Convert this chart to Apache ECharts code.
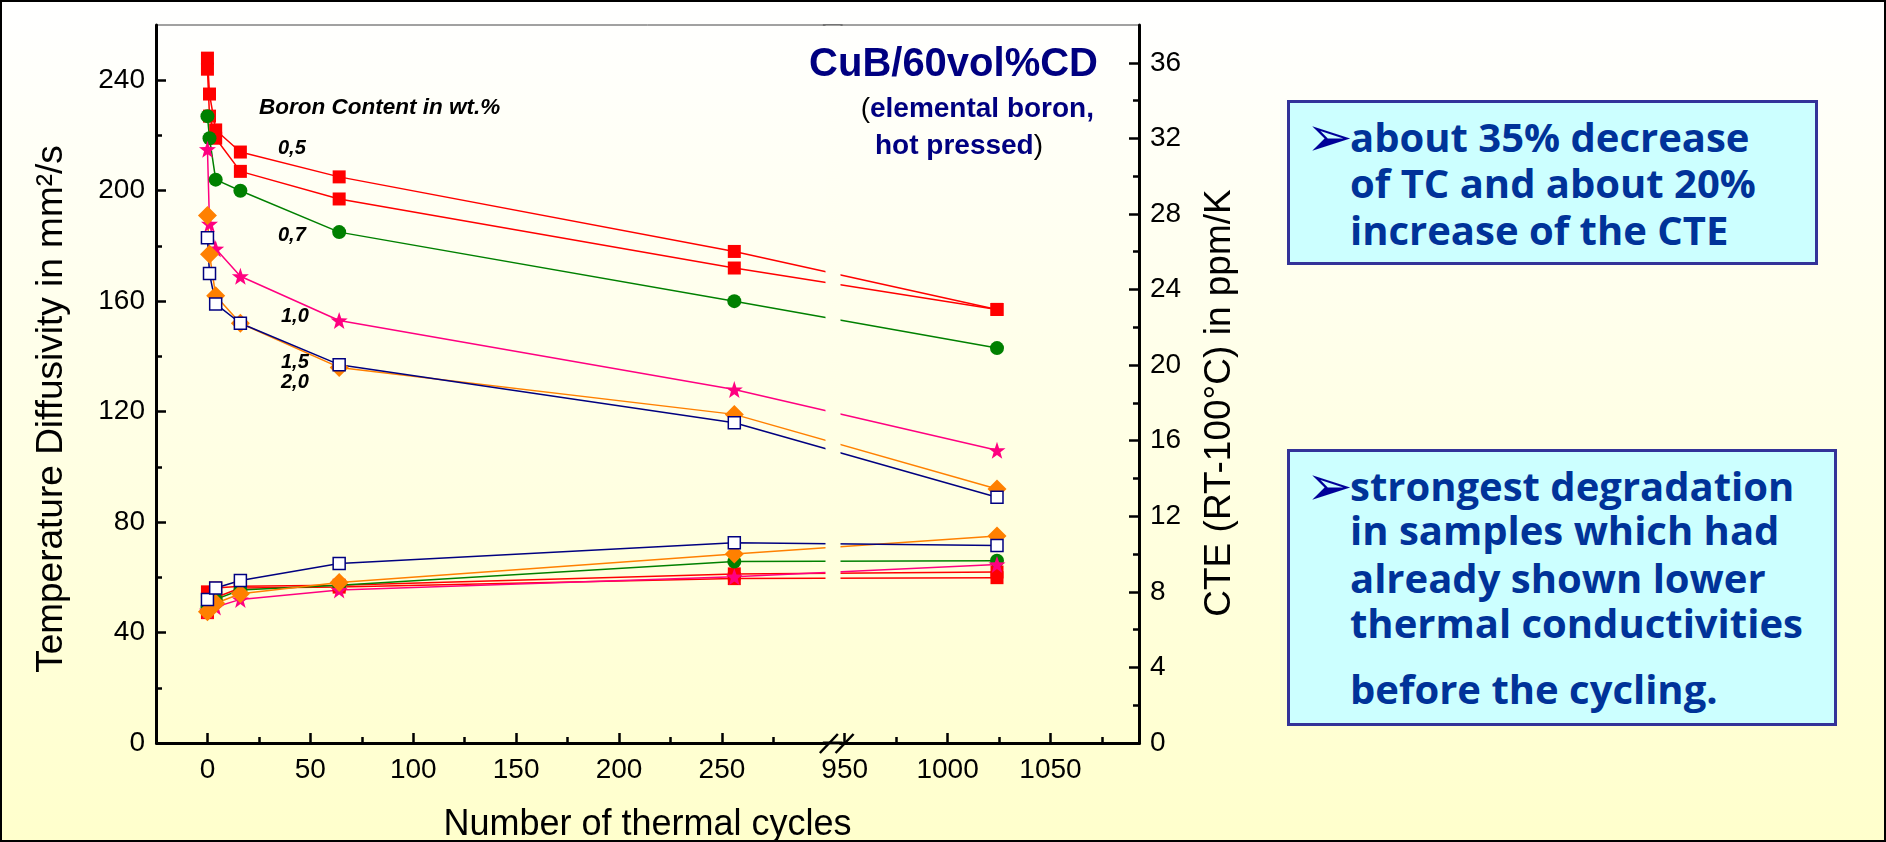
<!DOCTYPE html>
<html>
<head>
<meta charset="utf-8">
<script src="https://cdn.jsdelivr.net/npm/echarts@6/dist/echarts.min.js"></script>
<style>
html, body { margin: 0; padding: 0; }
body { width: 1886px; height: 842px; position: relative; overflow: hidden;
  background: linear-gradient(to bottom, #ffffff 0%, #ffffcc 100%); }
#chart { position: absolute; left: 0; top: 0; width: 1886px; height: 842px; }
#frame { position: absolute; left: 0; top: 0; width: 1886px; height: 842px; box-sizing: border-box;
  border: 2px solid #000; pointer-events: none; }
.box { position: absolute; box-sizing: border-box; border: 3px solid #333399; background: #ccffff;
  font-family: 'Open Sans', sans-serif; font-weight: 700; color: #003399; font-size: 40px; }
.box .ln { position: absolute; left: 60px; white-space: nowrap; line-height: 1; transform: translateY(-50%); }
.box .arrow { position: absolute; left: 16px; line-height: 1; transform: translateY(-50%);
  font-family: 'DejaVu Sans', sans-serif; color: #000099; font-size: 56px; font-weight: 400; }
</style>
</head>
<body>
<div id="chart"></div>
<div class="box" style="left:1287px;top:100px;width:531px;height:165px;">
  <span class="arrow" style="top:34px;">&#10146;</span>
  <span class="ln" style="top:34px;">about 35% decrease</span>
  <span class="ln" style="top:80px;">of TC and about 20%</span>
  <span class="ln" style="top:127px;">increase of the CTE</span>
</div>
<div class="box" style="left:1287px;top:449px;width:550px;height:277px;">
  <span class="arrow" style="top:34px;">&#10146;</span>
  <span class="ln" style="top:34px;">strongest degradation</span>
  <span class="ln" style="top:78px;">in samples which had</span>
  <span class="ln" style="top:126px;">already shown lower</span>
  <span class="ln" style="top:171px;">thermal conductivities</span>
  <span class="ln" style="top:237px;">before the cycling.</span>
</div>
<div id="frame"></div>
<script>
// thermal cycles
const cyclesTD = [0, 1, 4, 16, 64, 256, 1024]
const cyclesCTE = [0, 4, 16, 64, 256, 1024]

// temperature diffusivity, mm2/s
const td05a = [248, 235, 222, 214, 205, 178, 157]
const td05b = [244, 227, 219, 207, 197, 172, 157]
const td07 = [227, 219, 204, 200, 185, 160, 143]
const td10 = [215, 188, 179, 169, 153, 128, 106]
const td15 = [191, 177, 162, 152, 136, 119, 92]
const td20 = [183, 170, 159, 152, 137, 116, 89]

// CTE (RT-100°C), ppm/K
const cte05a = [8.0, 8.2, 8.3, 8.35, 8.95, 9.05]
const cte05b = [6.9, 7.7, 8.2, 8.25, 8.7, 8.75]
const cte07 = [7.2, 7.6, 8.1, 8.35, 9.6, 9.65]
const cte10 = [7.0, 7.2, 7.6, 8.1, 8.8, 9.45]
const cte15 = [6.95, 7.4, 7.9, 8.5, 10.0, 10.95]
const cte20 = [7.6, 8.2, 8.6, 9.5, 10.6, 10.45]

// ticks
const xTicks = [0, 50, 100, 150, 200, 250, 950, 1000, 1050]
const xMinor = [25, 75, 125, 175, 225, 275, 975, 1025, 1075]
const tdTicks = [0, 40, 80, 120, 160, 200, 240]
const tdMinor = [20, 60, 100, 140, 180, 220]
const cteTicks = [0, 4, 8, 12, 16, 20, 24, 28, 32, 36]
const cteMinor = [2, 6, 10, 14, 18, 22, 26, 30, 34]

const FONT = 'Liberation Sans'
const STAR = 'path://M0,-10L2.35,-3.24L9.51,-3.09L3.8,1.24L5.88,8.09L0,4L-5.88,8.09L-3.8,1.24L-9.51,-3.09L-2.35,-3.24Z'

const styles = [
  { name: '0,5 a', color: '#ff0000', symbol: 'rect', size: 13 },
  { name: '0,5 b', color: '#ff0000', symbol: 'rect', size: 13 },
  { name: '0,7', color: '#008000', symbol: 'circle', size: 14 },
  { name: '1,0', color: '#ff0080', symbol: STAR, size: 17 },
  { name: '1,5', color: '#ff8000', symbol: 'diamond', size: 19 },
  { name: '2,0', color: '#000080', symbol: 'rect', size: 12, open: true },
]
const tdData = [td05a, td05b, td07, td10, td15, td20]
const cteData = [cte05a, cte05b, cte07, cte10, cte15, cte20]

const mkSeries = (st, xs, ys, yIdx) => ({
  type: 'line', name: st.name, xAxisIndex: 0, yAxisIndex: yIdx,
  data: xs.map((x, i) => [x, ys[i]]),
  symbol: st.symbol, symbolSize: st.size, showAllSymbol: true,
  lineStyle: { color: st.color, width: 1.5 },
  itemStyle: st.open ? { color: '#ffffff', borderColor: st.color, borderWidth: 1.5 } : { color: st.color, borderWidth: 0 },
  clip: false,
})

const series = []
styles.forEach((st, i) => series.push(mkSeries(st, cyclesTD, tdData[i], 0)))
styles.forEach((st, i) => series.push(mkSeries(st, cyclesCTE, cteData[i], 1)))

const axisLine = () => ({ show: true, onZero: false, lineStyle: { color: '#000', width: 3 } })
const noLine = () => ({ show: false, onZero: false })
const tick = (vals, len) => ({ show: true, inside: true, length: len, customValues: vals, lineStyle: { color: '#000', width: 2.5 } })
const xBreaks = () => [{ start: 300, end: 948, gap: '1.6%' }]

const chart = echarts.init(document.getElementById('chart'), null, { renderer: 'canvas' })
chart.setOption({
  animation: false,
  backgroundColor: 'transparent',
  grid: { left: 156, right: 747, top: 25, bottom: 99, outerBoundsMode: 'none', containLabel: false,
    show: true, borderColor: '#444', borderWidth: 1, backgroundColor: 'transparent' },
  xAxis: [{
    type: 'value', position: 'bottom', min: -25, max: 1093,
    breaks: xBreaks(),
    breakArea: {
      show: true, expandOnClick: false, zigzagAmplitude: 0, zigzagZ: 100,
      itemStyle: {
        color: new echarts.graphic.LinearGradient(0, 0, 0, 1, [{ offset: 0, color: '#fffffd' }, { offset: 1, color: '#ffffd2' }]),
        borderWidth: 0, borderColor: 'rgba(0,0,0,0)', opacity: 1,
      },
    },
    axisLine: axisLine(),
    axisTick: tick(xTicks, 10),
    axisLabel: { customValues: xTicks, formatter: v => String(v), color: '#000', fontSize: 28, fontFamily: FONT, margin: 13 },
    splitLine: { show: false },
    name: 'Number of thermal cycles', nameLocation: 'middle', nameGap: 64,
    nameTextStyle: { fontSize: 36, fontFamily: FONT, color: '#000' },
  }, {
    type: 'value', position: 'bottom', min: -25, max: 1093,
    breaks: xBreaks(), breakArea: { show: false },
    axisLine: noLine(),
    axisTick: tick(xMinor, 6),
    axisLabel: { show: false }, splitLine: { show: false },
  }],
  yAxis: [{
    type: 'value', position: 'left', min: 0, max: 260,
    axisLine: axisLine(),
    axisTick: tick(tdTicks, 10),
    axisLabel: { customValues: tdTicks, color: '#000', fontSize: 28, fontFamily: FONT, margin: 11 },
    splitLine: { show: false },
    name: 'Temperature Diffusivity in mm²/s', nameLocation: 'middle', nameGap: 86, nameRotate: 90,
    nameTextStyle: { fontSize: 37, fontFamily: FONT, color: '#000', padding: [0, 50, 0, 0] },
  }, {
    type: 'value', position: 'right', min: 0, max: 38,
    axisLine: axisLine(),
    axisTick: tick(cteTicks, 10),
    axisLabel: { customValues: cteTicks, color: '#000', fontSize: 28, fontFamily: FONT, margin: 11 },
    splitLine: { show: false },
    name: 'CTE (RT-100°C) in ppm/K', nameLocation: 'middle', nameGap: 62, nameRotate: 90,
    nameTextStyle: { fontSize: 37, fontFamily: FONT, color: '#000', padding: [0, 38, 0, 0] },
  }, {
    type: 'value', position: 'left', min: 0, max: 260,
    axisLine: noLine(),
    axisTick: tick(tdMinor, 6),
    axisLabel: { show: false }, splitLine: { show: false },
  }, {
    type: 'value', position: 'right', min: 0, max: 38,
    axisLine: noLine(),
    axisTick: tick(cteMinor, 6),
    axisLabel: { show: false }, splitLine: { show: false },
  }],
  series,
})

// texts and break marks "//" on the x axis
const b0 = chart.convertToPixel({ xAxisIndex: 0 }, 300)
const b1 = chart.convertToPixel({ xAxisIndex: 0 }, 948)
const axisY = chart.convertToPixel({ yAxisIndex: 0 }, 0)
const topY = chart.convertToPixel({ yAxisIndex: 0 }, 260)
const slash = (id, cx) => ({ id, type: 'line', z: 300, shape: { x1: cx - 9, y1: axisY + 10, x2: cx + 9, y2: axisY - 9 }, style: { stroke: '#000', lineWidth: 2.5 } })
const label = (id, text, x, y, font, extra) => ({ id, type: 'text', x, y, z: 200, style: Object.assign({ text, fill: '#000', font, verticalAlign: 'middle' }, extra || {}) })
const note = 'italic bold 20px "Liberation Sans"'
chart.setOption({ graphic: [
  label('title', 'CuB/60vol%CD', 1098, 65, 'bold 40px "Liberation Sans"', { fill: '#000080', align: 'right' }),
  { id: 'sub1', type: 'text', x: 1094, y: 109, z: 200, style: {
    text: '{p|(}{t|elemental boron,}', align: 'right', verticalAlign: 'middle',
    rich: { p: { fill: '#000', font: '28px "Liberation Sans"' }, t: { fill: '#000080', font: 'bold 28px "Liberation Sans"' } } } },
  { id: 'sub2', type: 'text', x: 875, y: 146, z: 200, style: {
    text: '{t|hot pressed}{p|)}', align: 'left', verticalAlign: 'middle',
    rich: { p: { fill: '#000', font: '28px "Liberation Sans"' }, t: { fill: '#000080', font: 'bold 28px "Liberation Sans"' } } } },
  label('boron', 'Boron Content in wt.%', 259, 108, 'italic bold 22.5px "Liberation Sans"'),
  label('l05', '0,5', 278, 148, note),
  label('l07', '0,7', 278, 235, note),
  label('l10', '1,0', 281, 316, note),
  label('l15', '1,5', 281, 362, note),
  label('l20', '2,0', 281, 382, note),
  slash('s0', b0 + 4), slash('s1', b1 + 4),
  { id: 'bl', type: 'line', z: 300, shape: { x1: b0 - 2, y1: axisY, x2: b1 + 2, y2: axisY }, style: { stroke: '#000', lineWidth: 3 } },
  { id: 'tl', type: 'line', z: 300, shape: { x1: b0 - 2, y1: topY, x2: b1 + 2, y2: topY }, style: { stroke: '#444', lineWidth: 1 } },
] })
</script>
</body>
</html>
